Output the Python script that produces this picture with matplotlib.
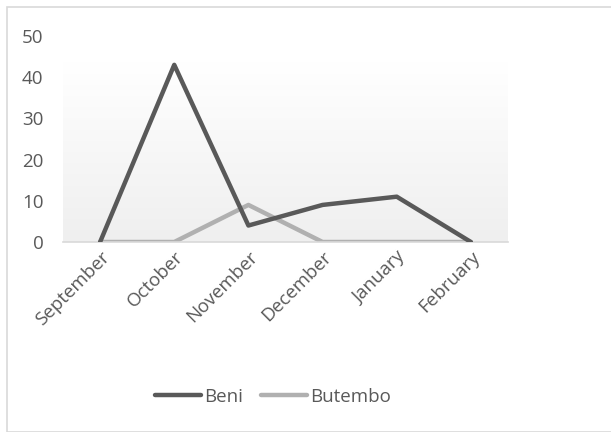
import numpy as np
import matplotlib
matplotlib.use('Agg')
import matplotlib.pyplot as plt
from matplotlib.colors import LinearSegmentedColormap
from matplotlib.patches import Rectangle

months = ['September', 'October', 'November', 'December', 'January', 'February']
beni = [0, 43, 4, 9, 11, 0]
butembo = [0, 0, 9, 0, 0, 0]

plt.rcParams['font.family'] = ['Open Sans', 'DejaVu Sans']
TXT = '#595959'

fig = plt.figure(figsize=(6.11, 4.32), dpi=100)
ax = fig.add_axes([63 / 611, 1 - 242 / 432, 445 / 611, 206 / 432])

x = np.arange(len(months))

# plot area gradient (white at top, light grey at bottom)
cmap = LinearSegmentedColormap.from_list('bg', ['#efefef', '#ffffff'])
grad = np.linspace(0, 1, 256).reshape(-1, 1)
ax.imshow(grad, extent=(-0.5, len(months) - 0.5, 0, 43.5), origin='lower',
          aspect='auto', cmap=cmap, zorder=0)

ax.plot(x, beni, color='#595959', lw=3.2, label='Beni', zorder=3,
        solid_joinstyle='round', solid_capstyle='round')
ax.plot(x, butembo, color='#b0b0b0', lw=3.2, label='Butembo', zorder=2,
        solid_joinstyle='round', solid_capstyle='round')

ax.set_xlim(-0.5, len(months) - 0.5)
ax.set_ylim(0, 50)
ax.set_yticks(range(0, 51, 10))
ax.set_xticks(x)
ax.set_xticklabels(months, rotation=45, ha='right', rotation_mode='anchor')
ax.tick_params(axis='both', length=0, colors=TXT, labelsize=13.5)
ax.tick_params(axis='y', pad=14)
ax.tick_params(axis='x', pad=4)

for s in ['top', 'right', 'left']:
    ax.spines[s].set_visible(False)
ax.spines['bottom'].set_color('#d9d9d9')
ax.spines['bottom'].set_linewidth(1.2)
ax.set_facecolor('none')

leg = fig.legend(loc='center', bbox_to_anchor=(273 / 611, 1 - 397 / 432), ncol=2,
                 frameon=False, fontsize=13.5, handlelength=2.45, handletextpad=0.15,
                 columnspacing=0.95)
for t in leg.get_texts():
    t.set_color(TXT)

fig.patches.append(Rectangle((7 / 611, 0), 1.2, 1 - 7 / 432, transform=fig.transFigure,
                             fill=False, edgecolor='#d9d9d9', lw=1.2))

fig.savefig('out.png', dpi=100)
